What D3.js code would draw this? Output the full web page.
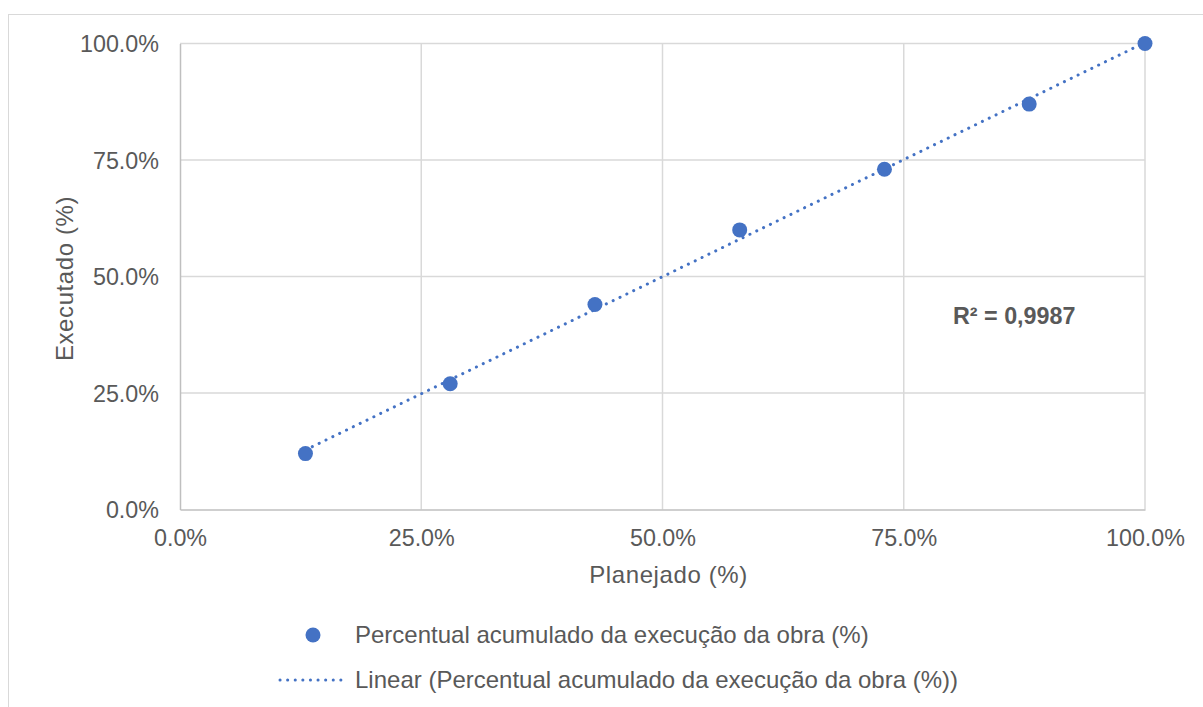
<!DOCTYPE html>
<html><head><meta charset="utf-8">
<script src="https://cdn.jsdelivr.net/npm/d3@7"></script>
<style>body{margin:0;background:#fff}svg{display:block;font-family:"Liberation Sans",Arial,sans-serif}</style>
</head><body>
<svg id="c" width="1203" height="707"></svg>
<script>
const planejado = [13, 28, 43, 58, 73, 88, 100];
const executado = [12, 27, 44, 60, 73, 87, 100];
const tickValues = [0, 25, 50, 75, 100];
const seriesName = "Percentual acumulado da execução da obra (%)";
const trendName = "Linear (Percentual acumulado da execução da obra (%))";
const r2Label = "R² = 0,9987";
const xTitle = "Planejado (%)";
const yTitle = "Executado (%)";

const svg = d3.select("#c");
const color = "#4472C4", txt = "#595959";
const FS = "23.3px", FS2 = "24px";
const L = 180, R = 1145, T = 43.5, B = 509.5;
const x = d3.scaleLinear().domain([0,100]).range([L,R]);
const y = d3.scaleLinear().domain([0,100]).range([B,T]);

// chart border
svg.append("rect").attr("x",8.5).attr("y",14.5).attr("width",1220).attr("height",720)
  .attr("fill","none").attr("stroke","#d9d9d9");

// gridlines
svg.append("g").selectAll("line").data(tickValues.filter(d=>d>0)).join("line")
  .attr("x1",d=>x(d)).attr("x2",d=>x(d)).attr("y1",T).attr("y2",B)
  .attr("stroke","#d9d9d9").attr("stroke-width",1.5);
svg.append("g").selectAll("line").data(tickValues.filter(d=>d>0)).join("line")
  .attr("y1",d=>y(d)).attr("y2",d=>y(d)).attr("x1",L).attr("x2",R)
  .attr("stroke","#d9d9d9").attr("stroke-width",1.5);

// axes
const fmt = d => d3.format(".1f")(d) + "%";
const xa = svg.append("g").attr("transform",`translate(0,${B})`)
  .call(d3.axisBottom(x).tickValues(tickValues).tickFormat(fmt).tickSize(0));
const ya = svg.append("g").attr("transform",`translate(${L},0)`)
  .call(d3.axisLeft(y).tickValues(tickValues).tickFormat(fmt).tickSize(0).tickPadding(21));
[xa,ya].forEach(a=>{
  a.select(".domain").attr("stroke","#bfbfbf").attr("stroke-width",1.5);
  a.selectAll("text").attr("fill",txt).style("font-size",FS).style("font-family","Liberation Sans, Arial, sans-serif");
});
xa.selectAll("text").attr("y",36.5).attr("dy",0);
ya.selectAll("text").attr("dy","0.36em");

// axis titles
svg.append("text").attr("x",(L+R)/2 + 6).attr("y",583).attr("text-anchor","middle")
  .attr("fill",txt).style("font-size",FS2).style("letter-spacing","0.6px").text(xTitle);
svg.append("text").attr("transform",`translate(72.5,${(T+B)/2 + 2}) rotate(-90)`).attr("text-anchor","middle")
  .attr("fill",txt).style("font-size",FS2).style("letter-spacing","0.6px").text(yTitle);

// regression
const n = planejado.length;
const mx = d3.mean(planejado), my = d3.mean(executado);
let sxy=0,sxx=0;
for(let i=0;i<n;i++){sxy+=(planejado[i]-mx)*(executado[i]-my);sxx+=(planejado[i]-mx)**2;}
const slope = sxy/sxx, icpt = my - slope*mx;
const x0 = d3.min(planejado), x1 = d3.max(planejado);
svg.append("line").attr("x1",x(x0)).attr("y1",y(slope*x0+icpt)).attr("x2",x(x1)).attr("y2",y(slope*x1+icpt))
  .attr("stroke",color).attr("stroke-width",3).attr("stroke-linecap","round").attr("stroke-dasharray","0.1 7.5");

// points
svg.append("g").selectAll("circle").data(planejado.map((p,i)=>[p,executado[i]])).join("circle")
  .attr("cx",d=>x(d[0])).attr("cy",d=>y(d[1])).attr("r",7.5).attr("fill",color);

// R2
svg.append("text").attr("x",953).attr("y",324).attr("fill",txt).style("font-size",FS).style("font-weight","bold").text(r2Label);

// legend
svg.append("circle").attr("cx",313).attr("cy",635).attr("r",7.5).attr("fill",color);
svg.append("text").attr("x",355).attr("y",643).attr("fill",txt).style("font-size",FS2).text(seriesName);
svg.append("line").attr("x1",280).attr("x2",348).attr("y1",680).attr("y2",680)
  .attr("stroke",color).attr("stroke-width",3).attr("stroke-linecap","round").attr("stroke-dasharray","0.1 7.5");
svg.append("text").attr("x",355).attr("y",688).attr("fill",txt).style("font-size",FS2).text(trendName);
</script>
</body></html>
